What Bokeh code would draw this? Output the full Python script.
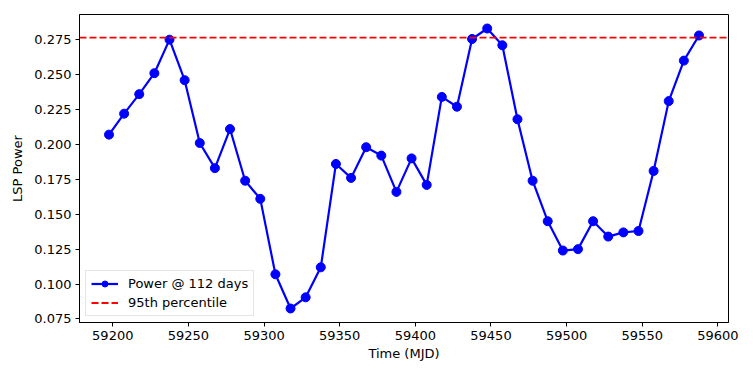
from bokeh.plotting import figure
from bokeh.models import (Range1d, FixedTicker, NumeralTickFormatter,
                          Legend, LegendItem, ColumnDataSource)
from bokeh.embed import file_html
from bokeh.resources import INLINE

# ---- data ----
times = [59197.5, 59207.5, 59217.5, 59227.5, 59237.5, 59247.5, 59257.5, 59267.5,
         59277.5, 59287.5, 59297.5, 59307.5, 59317.5, 59327.5, 59337.5, 59347.5,
         59357.5, 59367.5, 59377.5, 59387.5, 59397.5, 59407.5, 59417.5, 59427.5,
         59437.5, 59447.5, 59457.5, 59467.5, 59477.5, 59487.5, 59497.5, 59507.5,
         59517.5, 59527.5, 59537.5, 59547.5, 59557.5, 59567.5, 59577.5, 59587.5]
power = [0.207, 0.222, 0.236, 0.251, 0.275, 0.246, 0.201, 0.183,
         0.211, 0.174, 0.161, 0.107, 0.0825, 0.0905, 0.112, 0.186,
         0.176, 0.198, 0.192, 0.166, 0.190, 0.171, 0.234, 0.227,
         0.2755, 0.283, 0.271, 0.218, 0.174, 0.145, 0.124, 0.125,
         0.145, 0.134, 0.137, 0.138, 0.181, 0.231, 0.260, 0.278]
percentile_95 = 0.2765
series_label = "Power @ 112 days"
percentile_label = "95th percentile"
x_ticks = [59200, 59250, 59300, 59350, 59400, 59450, 59500, 59550, 59600]
y_ticks = [0.075, 0.100, 0.125, 0.150, 0.175, 0.200, 0.225, 0.250, 0.275]

# matplotlib-like 5% margins
xmin, xmax = min(times), max(times)
ymin, ymax = min(power), max(power)
dx = (xmax - xmin) * 0.05
dy = (ymax - ymin) * 0.05
x0, x1 = xmin - dx, xmax + dx

FONT = "DejaVu Sans"
FS = "13px"

p = figure(width=745, height=369, output_backend="svg", toolbar_location=None,
           x_range=Range1d(x0, x1), y_range=Range1d(ymin - dy, ymax + dy),
           min_border_left=79, min_border_right=17, min_border_top=14, min_border_bottom=47)
p.background_fill_color = "white"
p.border_fill_color = "white"
p.outline_line_color = "black"
p.outline_line_width = 1
p.outline_line_alpha = 1
p.xgrid.visible = False
p.ygrid.visible = False

src = ColumnDataSource(dict(t=times, pw=power))
line_r = p.line("t", "pw", source=src, line_color="#0000ff", line_width=2.2)
dot_r = p.scatter("t", "pw", source=src, size=9, fill_color="#0000ff",
                  line_color="#0000ff", marker="circle")

pct_r = p.line([x0, x1], [percentile_95, percentile_95], line_color="#ff0000",
               line_width=1.8, line_dash="7 3")

for ax in (p.xaxis[0], p.yaxis[0]):
    ax.axis_line_color = "black"
    ax.axis_line_width = 1
    ax.major_tick_line_color = "black"
    ax.major_tick_out = 4
    ax.major_tick_in = 0
    ax.minor_tick_out = 0
    ax.minor_tick_in = 0
    ax.major_label_text_font = FONT
    ax.major_label_text_font_size = FS
    ax.major_label_text_color = "black"
    ax.axis_label_text_font = FONT
    ax.axis_label_text_font_size = FS
    ax.axis_label_text_font_style = "normal"
    ax.axis_label_text_color = "black"

p.xaxis[0].ticker = FixedTicker(ticks=x_ticks)
p.xaxis[0].formatter = NumeralTickFormatter(format="0")
p.xaxis[0].axis_label = "Time (MJD)"
p.xaxis[0].major_label_standoff = 4
p.xaxis[0].axis_label_standoff = 3

p.yaxis[0].ticker = FixedTicker(ticks=y_ticks)
p.yaxis[0].formatter = NumeralTickFormatter(format="0.000")
p.yaxis[0].axis_label = "LSP Power"
p.yaxis[0].major_label_standoff = 4
p.yaxis[0].axis_label_standoff = 6

legend = Legend(items=[LegendItem(label=series_label, renderers=[line_r, dot_r]),
                       LegendItem(label=percentile_label, renderers=[pct_r])],
                location=(6, 6))
legend.label_text_font = FONT
legend.label_text_font_size = FS
legend.label_text_color = "black"
legend.border_line_color = "#cccccc"
legend.border_line_width = 1
legend.background_fill_color = "white"
legend.background_fill_alpha = 0.8
legend.glyph_width = 27
legend.glyph_height = 15
legend.label_standoff = 10
legend.spacing = 4
legend.padding = 5
legend.margin = 0
legend.label_height = 15
p.add_layout(legend)

open("out.html", "w").write(file_html(p, INLINE))
